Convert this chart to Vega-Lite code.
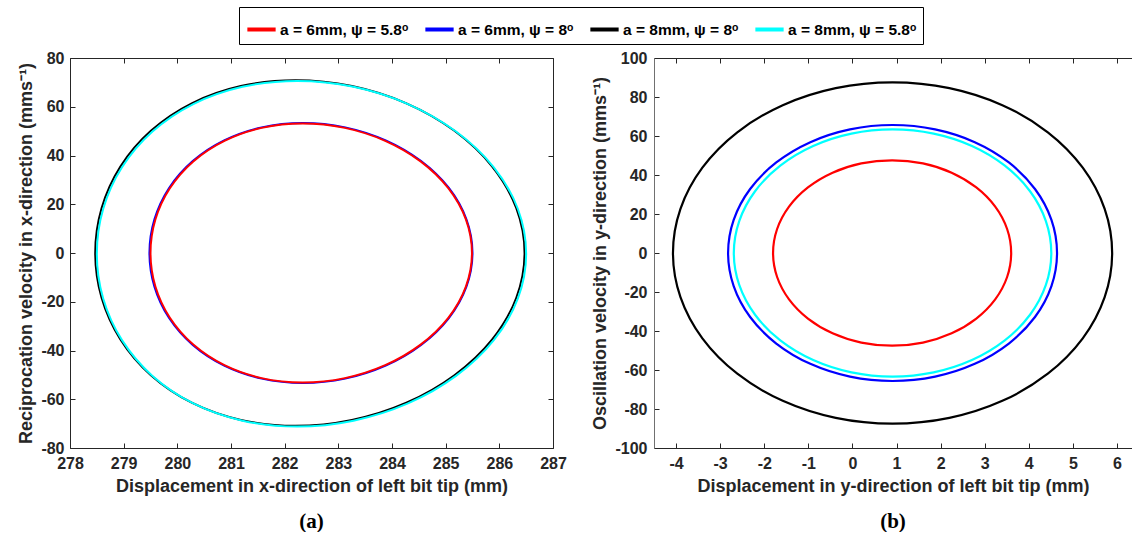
{
  "$schema": "https://vega.github.io/schema/vega-lite/v6.json",
  "padding": {"left": 17, "top": 6, "right": 0, "bottom": 0},
  "bounds": "flush",
  "spacing": 101,
  "config": {
    "view": {"stroke": null},
    "font": "Liberation Sans",
    "axis": {
      "labelFont": "Liberation Sans", "labelFontSize": 16, "labelFontWeight": "bold", "labelColor": "#262626",
      "titleFont": "Liberation Sans", "titleFontSize": 18, "titleFontWeight": "bold", "titleColor": "#262626",
      "domainColor": "#262626", "tickColor": "#262626", "tickSize": -5, "grid": false,
      "labelFlush": false, "labelOverlap": false, "domainWidth": 1, "tickWidth": 1,
      "labelExpr": "'' + datum.value"
    },
    "legend": {
      "title": null, "symbolType": "stroke", "symbolSize": 800, "symbolStrokeWidth": 4,
      "labelFont": "Liberation Sans", "labelFontSize": 15.5, "labelFontWeight": "bold", "labelColor": "#000000",
      "strokeColor": "#000000", "fillColor": "#ffffff", "padding": 6, "columnPadding": 8, "labelOffset": 2
    }
  },
  "datasets": {
    "A": [
      {"s":"2","i":0,"x":285.500,"y":0},{"s":"2","i":1,"x":285.387,"y":13.81},{"s":"2","i":2,"x":285.060,"y":26.68},{"s":"2","i":3,"x":284.543,"y":37.72},{"s":"2","i":4,"x":283.883,"y":46.20},{"s":"2","i":5,"x":283.129,"y":51.53},{"s":"2","i":6,"x":282.340,"y":53.35},{"s":"2","i":7,"x":281.571,"y":51.53},{"s":"2","i":8,"x":280.873,"y":46.20},{"s":"2","i":9,"x":280.287,"y":37.72},{"s":"2","i":10,"x":279.846,"y":26.68},{"s":"2","i":11,"x":279.573,"y":13.81},{"s":"2","i":12,"x":279.480,"y":0},{"s":"2","i":13,"x":279.573,"y":-13.81},{"s":"2","i":14,"x":279.846,"y":-26.68},{"s":"2","i":15,"x":280.287,"y":-37.72},{"s":"2","i":16,"x":280.873,"y":-46.20},{"s":"2","i":17,"x":281.571,"y":-51.53},{"s":"2","i":18,"x":282.340,"y":-53.35},{"s":"2","i":19,"x":283.129,"y":-51.53},{"s":"2","i":20,"x":283.883,"y":-46.20},{"s":"2","i":21,"x":284.543,"y":-37.72},{"s":"2","i":22,"x":285.060,"y":-26.68},{"s":"2","i":23,"x":285.387,"y":-13.81},
      {"s":"1","i":0,"x":285.490,"y":0},{"s":"1","i":1,"x":285.377,"y":13.76},{"s":"1","i":2,"x":285.049,"y":26.58},{"s":"1","i":3,"x":284.533,"y":37.58},{"s":"1","i":4,"x":283.873,"y":46.03},{"s":"1","i":5,"x":283.121,"y":51.34},{"s":"1","i":6,"x":282.335,"y":53.15},{"s":"1","i":7,"x":281.571,"y":51.34},{"s":"1","i":8,"x":280.878,"y":46.03},{"s":"1","i":9,"x":280.297,"y":37.58},{"s":"1","i":10,"x":279.861,"y":26.58},{"s":"1","i":11,"x":279.591,"y":13.76},{"s":"1","i":12,"x":279.500,"y":0},{"s":"1","i":13,"x":279.591,"y":-13.76},{"s":"1","i":14,"x":279.861,"y":-26.58},{"s":"1","i":15,"x":280.297,"y":-37.58},{"s":"1","i":16,"x":280.878,"y":-46.03},{"s":"1","i":17,"x":281.571,"y":-51.34},{"s":"1","i":18,"x":282.335,"y":-53.15},{"s":"1","i":19,"x":283.121,"y":-51.34},{"s":"1","i":20,"x":283.873,"y":-46.03},{"s":"1","i":21,"x":284.533,"y":-37.58},{"s":"1","i":22,"x":285.049,"y":-26.58},{"s":"1","i":23,"x":285.377,"y":-13.76},
      {"s":"3","i":0,"x":286.470,"y":0},{"s":"3","i":1,"x":286.316,"y":18.35},{"s":"3","i":2,"x":285.867,"y":35.45},{"s":"3","i":3,"x":285.163,"y":50.13},{"s":"3","i":4,"x":284.268,"y":61.40},{"s":"3","i":5,"x":283.253,"y":68.48},{"s":"3","i":6,"x":282.200,"y":70.90},{"s":"3","i":7,"x":281.183,"y":68.48},{"s":"3","i":8,"x":280.268,"y":61.40},{"s":"3","i":9,"x":279.507,"y":50.13},{"s":"3","i":10,"x":278.939,"y":35.45},{"s":"3","i":11,"x":278.588,"y":18.35},{"s":"3","i":12,"x":278.470,"y":0},{"s":"3","i":13,"x":278.588,"y":-18.35},{"s":"3","i":14,"x":278.939,"y":-35.45},{"s":"3","i":15,"x":279.507,"y":-50.13},{"s":"3","i":16,"x":280.268,"y":-61.40},{"s":"3","i":17,"x":281.183,"y":-68.48},{"s":"3","i":18,"x":282.200,"y":-70.90},{"s":"3","i":19,"x":283.253,"y":-68.48},{"s":"3","i":20,"x":284.268,"y":-61.40},{"s":"3","i":21,"x":285.163,"y":-50.13},{"s":"3","i":22,"x":285.867,"y":-35.45},{"s":"3","i":23,"x":286.316,"y":-18.35},
      {"s":"4","i":0,"x":286.500,"y":-0.3},{"s":"4","i":1,"x":286.346,"y":18.05},{"s":"4","i":2,"x":285.897,"y":35.15},{"s":"4","i":3,"x":285.193,"y":49.83},{"s":"4","i":4,"x":284.298,"y":61.10},{"s":"4","i":5,"x":283.283,"y":68.18},{"s":"4","i":6,"x":282.230,"y":70.60},{"s":"4","i":7,"x":281.213,"y":68.18},{"s":"4","i":8,"x":280.298,"y":61.10},{"s":"4","i":9,"x":279.537,"y":49.83},{"s":"4","i":10,"x":278.969,"y":35.15},{"s":"4","i":11,"x":278.618,"y":18.05},{"s":"4","i":12,"x":278.500,"y":-0.3},{"s":"4","i":13,"x":278.618,"y":-18.65},{"s":"4","i":14,"x":278.969,"y":-35.75},{"s":"4","i":15,"x":279.537,"y":-50.43},{"s":"4","i":16,"x":280.298,"y":-61.70},{"s":"4","i":17,"x":281.213,"y":-68.78},{"s":"4","i":18,"x":282.230,"y":-71.20},{"s":"4","i":19,"x":283.283,"y":-68.78},{"s":"4","i":20,"x":284.298,"y":-61.70},{"s":"4","i":21,"x":285.193,"y":-50.43},{"s":"4","i":22,"x":285.897,"y":-35.75},{"s":"4","i":23,"x":286.346,"y":-18.65}
    ],
    "B": [
      {"s":"3","i":0,"x":5.890,"y":0},{"s":"3","i":1,"x":5.720,"y":22.66},{"s":"3","i":2,"x":5.223,"y":43.78},{"s":"3","i":3,"x":4.431,"y":61.91},{"s":"3","i":4,"x":3.400,"y":75.82},{"s":"3","i":5,"x":2.199,"y":84.57},{"s":"3","i":6,"x":0.910,"y":87.55},{"s":"3","i":7,"x":-0.379,"y":84.57},{"s":"3","i":8,"x":-1.580,"y":75.82},{"s":"3","i":9,"x":-2.611,"y":61.91},{"s":"3","i":10,"x":-3.403,"y":43.78},{"s":"3","i":11,"x":-3.900,"y":22.66},{"s":"3","i":12,"x":-4.070,"y":0},{"s":"3","i":13,"x":-3.900,"y":-22.66},{"s":"3","i":14,"x":-3.403,"y":-43.78},{"s":"3","i":15,"x":-2.611,"y":-61.91},{"s":"3","i":16,"x":-1.580,"y":-75.82},{"s":"3","i":17,"x":-0.379,"y":-84.57},{"s":"3","i":18,"x":0.910,"y":-87.55},{"s":"3","i":19,"x":2.199,"y":-84.57},{"s":"3","i":20,"x":3.400,"y":-75.82},{"s":"3","i":21,"x":4.431,"y":-61.91},{"s":"3","i":22,"x":5.223,"y":-43.78},{"s":"3","i":23,"x":5.720,"y":-22.66},
      {"s":"2","i":0,"x":4.640,"y":0},{"s":"2","i":1,"x":4.513,"y":16.99},{"s":"2","i":2,"x":4.140,"y":32.83},{"s":"2","i":3,"x":3.547,"y":46.42},{"s":"2","i":4,"x":2.775,"y":56.85},{"s":"2","i":5,"x":1.875,"y":63.41},{"s":"2","i":6,"x":0.910,"y":65.65},{"s":"2","i":7,"x":-0.055,"y":63.41},{"s":"2","i":8,"x":-0.955,"y":56.85},{"s":"2","i":9,"x":-1.727,"y":46.42},{"s":"2","i":10,"x":-2.320,"y":32.83},{"s":"2","i":11,"x":-2.693,"y":16.99},{"s":"2","i":12,"x":-2.820,"y":0},{"s":"2","i":13,"x":-2.693,"y":-16.99},{"s":"2","i":14,"x":-2.320,"y":-32.83},{"s":"2","i":15,"x":-1.727,"y":-46.42},{"s":"2","i":16,"x":-0.955,"y":-56.85},{"s":"2","i":17,"x":-0.055,"y":-63.41},{"s":"2","i":18,"x":0.910,"y":-65.65},{"s":"2","i":19,"x":1.875,"y":-63.41},{"s":"2","i":20,"x":2.775,"y":-56.85},{"s":"2","i":21,"x":3.547,"y":-46.42},{"s":"2","i":22,"x":4.140,"y":-32.83},{"s":"2","i":23,"x":4.513,"y":-16.99},
      {"s":"4","i":0,"x":4.510,"y":0},{"s":"4","i":1,"x":4.387,"y":16.40},{"s":"4","i":2,"x":4.028,"y":31.68},{"s":"4","i":3,"x":3.456,"y":44.79},{"s":"4","i":4,"x":2.710,"y":54.86},{"s":"4","i":5,"x":1.842,"y":61.19},{"s":"4","i":6,"x":0.910,"y":63.35},{"s":"4","i":7,"x":-0.022,"y":61.19},{"s":"4","i":8,"x":-0.890,"y":54.86},{"s":"4","i":9,"x":-1.636,"y":44.79},{"s":"4","i":10,"x":-2.208,"y":31.68},{"s":"4","i":11,"x":-2.567,"y":16.40},{"s":"4","i":12,"x":-2.690,"y":0},{"s":"4","i":13,"x":-2.567,"y":-16.40},{"s":"4","i":14,"x":-2.208,"y":-31.68},{"s":"4","i":15,"x":-1.636,"y":-44.79},{"s":"4","i":16,"x":-0.890,"y":-54.86},{"s":"4","i":17,"x":-0.022,"y":-61.19},{"s":"4","i":18,"x":0.910,"y":-63.35},{"s":"4","i":19,"x":1.842,"y":-61.19},{"s":"4","i":20,"x":2.710,"y":-54.86},{"s":"4","i":21,"x":3.456,"y":-44.79},{"s":"4","i":22,"x":4.028,"y":-31.68},{"s":"4","i":23,"x":4.387,"y":-16.40},
      {"s":"1","i":0,"x":3.600,"y":0},{"s":"1","i":1,"x":3.508,"y":12.31},{"s":"1","i":2,"x":3.238,"y":23.78},{"s":"1","i":3,"x":2.809,"y":33.62},{"s":"1","i":4,"x":2.250,"y":41.18},{"s":"1","i":5,"x":1.599,"y":45.93},{"s":"1","i":6,"x":0.900,"y":47.55},{"s":"1","i":7,"x":0.201,"y":45.93},{"s":"1","i":8,"x":-0.450,"y":41.18},{"s":"1","i":9,"x":-1.009,"y":33.62},{"s":"1","i":10,"x":-1.438,"y":23.78},{"s":"1","i":11,"x":-1.708,"y":12.31},{"s":"1","i":12,"x":-1.800,"y":0},{"s":"1","i":13,"x":-1.708,"y":-12.31},{"s":"1","i":14,"x":-1.438,"y":-23.78},{"s":"1","i":15,"x":-1.009,"y":-33.62},{"s":"1","i":16,"x":-0.450,"y":-41.18},{"s":"1","i":17,"x":0.201,"y":-45.93},{"s":"1","i":18,"x":0.900,"y":-47.55},{"s":"1","i":19,"x":1.599,"y":-45.93},{"s":"1","i":20,"x":2.250,"y":-41.18},{"s":"1","i":21,"x":2.809,"y":-33.62},{"s":"1","i":22,"x":3.238,"y":-23.78},{"s":"1","i":23,"x":3.508,"y":-12.31}
    ]
  },
  "resolve": {"scale": {"color": "shared"}, "legend": {"color": "shared"}},
  "hconcat": [
    {
      "width": 483, "height": 390,
      "data": {"name": "A"},
      "title": {"text": "(a)", "orient": "bottom", "anchor": "middle", "font": "Liberation Serif", "fontSize": 21, "fontWeight": "bold", "color": "#000000", "offset": 16},
      "resolve": {"axis": {"x": "independent", "y": "independent"}},
      "layer": [
        {
          "mark": {"type": "line", "interpolate": "cardinal-closed", "strokeWidth": 2},
          "encoding": {
            "x": {"field": "x", "type": "quantitative", "scale": {"domain": [278, 287], "nice": false, "zero": false},
                  "axis": {"orient": "bottom", "values": [278,279,280,281,282,283,284,285,286,287], "title": "Displacement in x-direction of left bit tip (mm)", "labelPadding": 12, "titlePadding": 6}},
            "y": {"field": "y", "type": "quantitative", "scale": {"domain": [-80, 80], "nice": false, "zero": false},
                  "axis": {"orient": "left", "values": [-80,-60,-40,-20,0,20,40,60,80], "title": "Reciprocation velocity in x-direction (mms⁻¹)", "labelPadding": 11, "titlePadding": 5}},
            "color": {"field": "s", "type": "nominal", "scale": {"domain": ["1","2","3","4"], "range": ["#ff0000","#0000ff","#000000","#00ffff"]},
                      "legend": {"orient": "none", "legendX": 169, "legendY": -51, "direction": "horizontal",
                                 "labelExpr": "datum.label == '1' ? 'a = 6mm, ψ = 5.8ᵒ' : datum.label == '2' ? 'a = 6mm, ψ = 8ᵒ' : datum.label == '3' ? 'a = 8mm, ψ = 8ᵒ' : 'a = 8mm, ψ = 5.8ᵒ'"}},
            "order": {"field": "i", "type": "quantitative"}
          }
        },
        {
          "mark": {"type": "point", "opacity": 0},
          "encoding": {
            "x": {"field": "x", "type": "quantitative", "scale": {"domain": [278, 287], "nice": false, "zero": false},
                  "axis": {"orient": "top", "values": [278,279,280,281,282,283,284,285,286,287], "labels": false, "title": null}},
            "y": {"field": "y", "type": "quantitative", "scale": {"domain": [-80, 80], "nice": false, "zero": false},
                  "axis": {"orient": "right", "values": [-80,-60,-40,-20,0,20,40,60,80], "labels": false, "title": null}}
          }
        }
      ]
    },
    {
      "width": 478, "height": 390,
      "data": {"name": "B"},
      "title": {"text": "(b)", "orient": "bottom", "anchor": "middle", "font": "Liberation Serif", "fontSize": 21, "fontWeight": "bold", "color": "#000000", "offset": 16},
      "resolve": {"axis": {"x": "independent", "y": "independent"}},
      "layer": [
        {
          "mark": {"type": "line", "interpolate": "cardinal-closed", "strokeWidth": 2.2},
          "encoding": {
            "x": {"field": "x", "type": "quantitative", "scale": {"domain": [-4.5, 6.34], "nice": false, "zero": false},
                  "axis": {"orient": "bottom", "values": [-4,-3,-2,-1,0,1,2,3,4,5,6], "title": "Displacement in y-direction of left bit tip (mm)", "labelPadding": 12, "titlePadding": 6}},
            "y": {"field": "y", "type": "quantitative", "scale": {"domain": [-100, 100], "nice": false, "zero": false},
                  "axis": {"orient": "left", "values": [-100,-80,-60,-40,-20,0,20,40,60,80,100], "title": "Oscillation velocity in y-direction (mms⁻¹)", "labelPadding": 12, "titlePadding": 5, "domainColor": "#707070"}},
            "color": {"field": "s", "type": "nominal", "scale": {"domain": ["1","2","3","4"], "range": ["#ff0000","#0000ff","#000000","#00ffff"]},
                      "legend": {"orient": "none", "legendX": 169, "legendY": -51, "direction": "horizontal",
                                 "labelExpr": "datum.label == '1' ? 'a = 6mm, ψ = 5.8ᵒ' : datum.label == '2' ? 'a = 6mm, ψ = 8ᵒ' : datum.label == '3' ? 'a = 8mm, ψ = 8ᵒ' : 'a = 8mm, ψ = 5.8ᵒ'"}},
            "order": {"field": "i", "type": "quantitative"}
          }
        },
        {
          "mark": {"type": "point", "opacity": 0},
          "encoding": {
            "x": {"field": "x", "type": "quantitative", "scale": {"domain": [-4.5, 6.34], "nice": false, "zero": false},
                  "axis": {"orient": "top", "values": [-4,-3,-2,-1,0,1,2,3,4,5,6], "labels": false, "title": null}}
          }
        }
      ]
    }
  ]
}
